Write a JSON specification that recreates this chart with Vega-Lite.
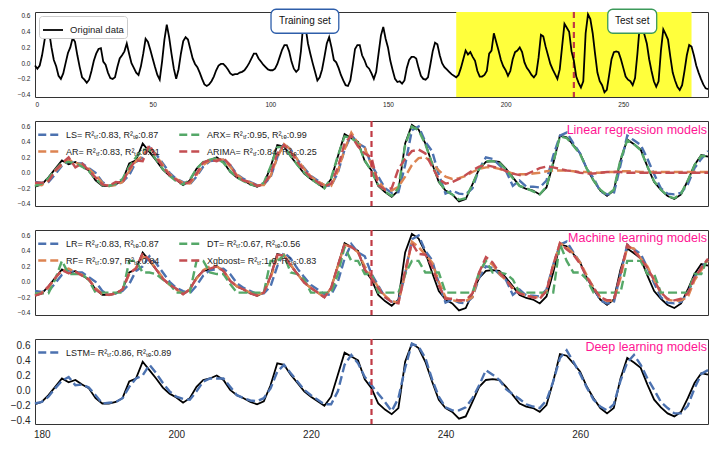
{
"$schema": "https://vega.github.io/schema/vega-lite/v6.json",
"padding": {"left": 9, "top": 8, "right": 5, "bottom": 5},
"spacing": 24,
"bounds": "flush",
"config": {"font": "Liberation Sans", "view": {"stroke": "#333", "strokeWidth": 1}, "axis": {"grid": false, "ticks": false, "domain": false, "labelColor": "#262626", "title": null, "labelOverlap": false}},
"resolve": {"scale": {"color": "independent", "x": "independent", "y": "independent"}, "legend": {"color": "independent"}},
"datasets": {
"orig": [
{"t":0,"v":-0.03},{"t":1,"v":-0.07},{"t":2,"v":-0.03},{"t":3,"v":0.1},{"t":4,"v":0.28},{"t":5,"v":0.45},{"t":6,"v":0.4},{"t":7,"v":0.2},{"t":8,"v":0.04},{"t":9,"v":-0.04},
{"t":10,"v":-0.16},{"t":11,"v":-0.2},{"t":12,"v":-0.13},{"t":13,"v":0.0},{"t":14,"v":0.13},{"t":15,"v":0.2},{"t":16,"v":0.32},{"t":17,"v":0.27},{"t":18,"v":0.1},{"t":19,"v":-0.05},
{"t":20,"v":-0.18},{"t":21,"v":-0.21},{"t":22,"v":-0.25},{"t":23,"v":-0.21},{"t":24,"v":-0.1},{"t":25,"v":0.03},{"t":26,"v":0.12},{"t":27,"v":0.18},{"t":28,"v":0.19},{"t":29,"v":0.02},
{"t":30,"v":-0.02},{"t":31,"v":-0.12},{"t":32,"v":-0.19},{"t":33,"v":-0.2},{"t":34,"v":-0.18},{"t":35,"v":-0.05},{"t":36,"v":0.06},{"t":37,"v":0.1},{"t":38,"v":0.15},{"t":39,"v":0.25},
{"t":40,"v":0.12},{"t":41,"v":0.0},{"t":42,"v":-0.06},{"t":43,"v":-0.12},{"t":44,"v":-0.15},{"t":45,"v":-0.04},{"t":46,"v":0.12},{"t":47,"v":0.31},{"t":48,"v":0.27},{"t":49,"v":0.17},
{"t":50,"v":0.06},{"t":51,"v":-0.05},{"t":52,"v":-0.15},{"t":53,"v":-0.21},{"t":54,"v":0.02},{"t":55,"v":0.3},{"t":56,"v":0.49},{"t":57,"v":0.33},{"t":58,"v":0.12},{"t":59,"v":-0.07},
{"t":60,"v":-0.2},{"t":61,"v":-0.08},{"t":62,"v":0.12},{"t":63,"v":0.28},{"t":64,"v":0.33},{"t":65,"v":0.3},{"t":66,"v":0.18},{"t":67,"v":0.06},{"t":68,"v":-0.01},{"t":69,"v":-0.05},
{"t":70,"v":-0.12},{"t":71,"v":-0.2},{"t":72,"v":-0.27},{"t":73,"v":-0.29},{"t":74,"v":-0.27},{"t":75,"v":-0.23},{"t":76,"v":-0.17},{"t":77,"v":-0.09},{"t":78,"v":-0.03},{"t":79,"v":-0.01},
{"t":80,"v":-0.01},{"t":81,"v":-0.04},{"t":82,"v":-0.08},{"t":83,"v":-0.13},{"t":84,"v":-0.15},{"t":85,"v":-0.14},{"t":86,"v":-0.14},{"t":87,"v":-0.12},{"t":88,"v":-0.11},{"t":89,"v":-0.09},
{"t":90,"v":-0.05},{"t":91,"v":0.0},{"t":92,"v":0.06},{"t":93,"v":0.12},{"t":94,"v":0.12},{"t":95,"v":0.06},{"t":96,"v":0.02},{"t":97,"v":-0.02},{"t":98,"v":-0.05},{"t":99,"v":-0.08},
{"t":100,"v":-0.09},{"t":101,"v":-0.09},{"t":102,"v":-0.07},{"t":103,"v":-0.01},{"t":104,"v":0.08},{"t":105,"v":0.17},{"t":106,"v":0.23},{"t":107,"v":0.23},{"t":108,"v":0.15},{"t":109,"v":0.02},
{"t":110,"v":-0.07},{"t":111,"v":-0.11},{"t":112,"v":-0.08},{"t":113,"v":0.15},{"t":114,"v":0.5},{"t":115,"v":0.45},{"t":116,"v":0.25},{"t":117,"v":0.12},{"t":118,"v":0.0},{"t":119,"v":-0.11},
{"t":120,"v":-0.22},{"t":121,"v":-0.18},{"t":122,"v":-0.08},{"t":123,"v":0.08},{"t":124,"v":0.25},{"t":125,"v":0.33},{"t":126,"v":0.2},{"t":127,"v":0.04},{"t":128,"v":0.01},{"t":129,"v":-0.06},
{"t":130,"v":-0.15},{"t":131,"v":-0.22},{"t":132,"v":-0.28},{"t":133,"v":-0.29},{"t":134,"v":-0.22},{"t":135,"v":-0.03},{"t":136,"v":0.18},{"t":137,"v":0.23},{"t":138,"v":0.23},{"t":139,"v":0.1},
{"t":140,"v":0.04},{"t":141,"v":-0.04},{"t":142,"v":-0.07},{"t":143,"v":-0.13},{"t":144,"v":-0.2},{"t":145,"v":-0.11},{"t":146,"v":0.12},{"t":147,"v":0.35},{"t":148,"v":0.46},{"t":149,"v":0.31},
{"t":150,"v":0.2},{"t":151,"v":0.03},{"t":152,"v":-0.09},{"t":153,"v":-0.2},{"t":154,"v":-0.24},{"t":155,"v":-0.23},{"t":156,"v":-0.26},{"t":157,"v":-0.22},{"t":158,"v":-0.06},{"t":159,"v":0.04},
{"t":160,"v":0.08},{"t":161,"v":0.08},{"t":162,"v":0.06},{"t":163,"v":-0.06},{"t":164,"v":-0.16},{"t":165,"v":-0.2},{"t":166,"v":-0.21},{"t":167,"v":-0.18},{"t":168,"v":-0.02},{"t":169,"v":0.15},
{"t":170,"v":0.26},{"t":171,"v":0.24},{"t":172,"v":0.1},{"t":173,"v":0.0},{"t":174,"v":-0.05},{"t":175,"v":-0.08},{"t":176,"v":-0.11},{"t":177,"v":-0.14},{"t":178,"v":-0.16},{"t":179,"v":-0.18},
{"t":180,"v":-0.15},{"t":181,"v":-0.06},{"t":182,"v":0.05},{"t":183,"v":0.16},{"t":184,"v":0.11},{"t":185,"v":0.14},{"t":186,"v":0.08},{"t":187,"v":0.03},{"t":188,"v":-0.1},{"t":189,"v":-0.17},
{"t":190,"v":-0.17},{"t":191,"v":-0.15},{"t":192,"v":-0.1},{"t":193,"v":0.12},{"t":194,"v":0.16},{"t":195,"v":0.38},{"t":196,"v":0.27},{"t":197,"v":0.16},{"t":198,"v":0.04},{"t":199,"v":-0.04},
{"t":200,"v":-0.09},{"t":201,"v":-0.16},{"t":202,"v":-0.1},{"t":203,"v":0.05},{"t":204,"v":0.14},{"t":205,"v":0.16},{"t":206,"v":0.2},{"t":207,"v":0.14},{"t":208,"v":0.01},{"t":209,"v":-0.06},
{"t":210,"v":-0.1},{"t":211,"v":-0.15},{"t":212,"v":-0.18},{"t":213,"v":-0.14},{"t":214,"v":0.07},{"t":215,"v":0.36},{"t":216,"v":0.34},{"t":217,"v":0.21},{"t":218,"v":0.1},{"t":219,"v":-0.01},
{"t":220,"v":-0.08},{"t":221,"v":-0.14},{"t":222,"v":-0.2},{"t":223,"v":-0.08},{"t":224,"v":0.21},{"t":225,"v":0.5},{"t":226,"v":0.45},{"t":227,"v":0.4},{"t":228,"v":0.15},{"t":229,"v":0.03},
{"t":230,"v":-0.17},{"t":231,"v":-0.25},{"t":232,"v":-0.31},{"t":233,"v":-0.23},{"t":234,"v":0.38},{"t":235,"v":0.62},{"t":236,"v":0.56},{"t":237,"v":0.38},{"t":238,"v":0.12},{"t":239,"v":-0.12},
{"t":240,"v":-0.23},{"t":241,"v":-0.28},{"t":242,"v":-0.37},{"t":243,"v":-0.34},{"t":244,"v":-0.15},{"t":245,"v":0.05},{"t":246,"v":0.14},{"t":247,"v":0.15},{"t":248,"v":0.14},{"t":249,"v":0.05},
{"t":250,"v":-0.06},{"t":251,"v":-0.17},{"t":252,"v":-0.21},{"t":253,"v":-0.23},{"t":254,"v":-0.28},{"t":255,"v":-0.19},{"t":256,"v":0.12},{"t":257,"v":0.48},{"t":258,"v":0.46},{"t":259,"v":0.36},
{"t":260,"v":0.25},{"t":261,"v":0.05},{"t":262,"v":-0.1},{"t":263,"v":-0.23},{"t":264,"v":-0.3},{"t":265,"v":-0.23},{"t":266,"v":0.16},{"t":267,"v":0.43},{"t":268,"v":0.37},{"t":269,"v":0.3},
{"t":270,"v":0.08},{"t":271,"v":-0.12},{"t":272,"v":-0.22},{"t":273,"v":-0.3},{"t":274,"v":-0.34},{"t":275,"v":-0.28},{"t":276,"v":-0.1},{"t":277,"v":0.1},{"t":278,"v":0.23},{"t":279,"v":0.21},
{"t":280,"v":0.1},{"t":281,"v":-0.03},{"t":282,"v":-0.12},{"t":283,"v":-0.2},{"t":284,"v":-0.27},{"t":285,"v":-0.32},{"t":286,"v":-0.33}
],
"pred": [
{"t":179,"ls":-0.12,"ar":-0.15,"arx":-0.17,"arima":-0.13,"rf":-0.16,"dt":-0.15,"xgb":-0.18,"lstm":-0.17},
{"t":180,"ls":-0.13,"ar":-0.16,"arx":-0.14,"arima":-0.13,"rf":-0.14,"dt":-0.15,"xgb":-0.15,"lstm":-0.15},
{"t":181,"ls":-0.12,"ar":-0.1,"arx":-0.07,"arima":-0.11,"rf":-0.08,"dt":-0.15,"xgb":-0.06,"lstm":-0.08},
{"t":182,"ls":-0.02,"ar":0.02,"arx":0.04,"arima":0.03,"rf":0.05,"dt":0.03,"xgb":0.05,"lstm":0.03},
{"t":183,"ls":0.09,"ar":0.1,"arx":0.13,"arima":0.12,"rf":0.14,"dt":0.27,"xgb":0.15,"lstm":0.13},
{"t":184,"ls":0.15,"ar":0.17,"arx":0.14,"arima":0.2,"rf":0.17,"dt":0.1,"xgb":0.11,"lstm":0.18},
{"t":185,"ls":0.12,"ar":0.13,"arx":0.12,"arima":0.07,"rf":0.12,"dt":0.1,"xgb":0.13,"lstm":0.07},
{"t":186,"ls":0.12,"ar":0.1,"arx":0.08,"arima":0.12,"rf":0.09,"dt":0.1,"xgb":0.08,"lstm":0.08},
{"t":187,"ls":0.06,"ar":0.05,"arx":0.02,"arima":0.03,"rf":0.03,"dt":0.02,"xgb":0.03,"lstm":0.04},
{"t":188,"ls":0.0,"ar":-0.03,"arx":-0.08,"arima":-0.06,"rf":-0.08,"dt":-0.14,"xgb":-0.1,"lstm":-0.06},
{"t":189,"ls":-0.12,"ar":-0.13,"arx":-0.16,"arima":-0.15,"rf":-0.16,"dt":-0.14,"xgb":-0.16,"lstm":-0.17},
{"t":190,"ls":-0.17,"ar":-0.17,"arx":-0.17,"arima":-0.17,"rf":-0.17,"dt":-0.14,"xgb":-0.17,"lstm":-0.16},
{"t":191,"ls":-0.15,"ar":-0.16,"arx":-0.14,"arima":-0.12,"rf":-0.15,"dt":-0.14,"xgb":-0.15,"lstm":-0.15},
{"t":192,"ls":-0.12,"ar":-0.12,"arx":-0.08,"arima":-0.13,"rf":-0.1,"dt":-0.14,"xgb":-0.1,"lstm":-0.1},
{"t":193,"ls":-0.03,"ar":0.02,"arx":0.08,"arima":0.05,"rf":0.1,"dt":0.27,"xgb":0.11,"lstm":0.05},
{"t":194,"ls":0.14,"ar":0.15,"arx":0.2,"arima":0.16,"rf":0.18,"dt":0.27,"xgb":0.17,"lstm":0.16},
{"t":195,"ls":0.2,"ar":0.22,"arx":0.3,"arima":0.15,"rf":0.33,"dt":0.12,"xgb":0.37,"lstm":0.2},
{"t":196,"ls":0.33,"ar":0.35,"arx":0.3,"arima":0.36,"rf":0.28,"dt":0.12,"xgb":0.28,"lstm":0.34},
{"t":197,"ls":0.24,"ar":0.22,"arx":0.17,"arima":0.2,"rf":0.17,"dt":0.1,"xgb":0.16,"lstm":0.23},
{"t":198,"ls":0.12,"ar":0.1,"arx":0.05,"arima":0.08,"rf":0.05,"dt":0.03,"xgb":0.04,"lstm":0.1},
{"t":199,"ls":0.0,"ar":-0.02,"arx":-0.04,"arima":-0.03,"rf":-0.04,"dt":-0.03,"xgb":-0.04,"lstm":-0.01},
{"t":200,"ls":-0.08,"ar":-0.08,"arx":-0.11,"arima":-0.09,"rf":-0.1,"dt":-0.14,"xgb":-0.09,"lstm":-0.08},
{"t":201,"ls":-0.12,"ar":-0.13,"arx":-0.15,"arima":-0.15,"rf":-0.16,"dt":-0.14,"xgb":-0.16,"lstm":-0.11},
{"t":202,"ls":-0.15,"ar":-0.14,"arx":-0.09,"arima":-0.12,"rf":-0.1,"dt":-0.14,"xgb":-0.1,"lstm":-0.12},
{"t":203,"ls":-0.05,"ar":-0.03,"arx":0.05,"arima":-0.01,"rf":0.04,"dt":0.27,"xgb":0.05,"lstm":-0.01},
{"t":204,"ls":0.08,"ar":0.1,"arx":0.14,"arima":0.13,"rf":0.15,"dt":0.27,"xgb":0.14,"lstm":0.12},
{"t":205,"ls":0.15,"ar":0.16,"arx":0.17,"arima":0.17,"rf":0.2,"dt":0.12,"xgb":0.17,"lstm":0.16},
{"t":206,"ls":0.16,"ar":0.17,"arx":0.19,"arima":0.15,"rf":0.2,"dt":0.1,"xgb":0.2,"lstm":0.16},
{"t":207,"ls":0.17,"ar":0.17,"arx":0.13,"arima":0.19,"rf":0.14,"dt":0.1,"xgb":0.14,"lstm":0.16},
{"t":208,"ls":0.1,"ar":0.08,"arx":0.02,"arima":0.1,"rf":0.02,"dt":-0.03,"xgb":0.01,"lstm":0.05},
{"t":209,"ls":-0.02,"ar":-0.03,"arx":-0.06,"arima":-0.05,"rf":-0.06,"dt":-0.14,"xgb":-0.06,"lstm":-0.06},
{"t":210,"ls":-0.08,"ar":-0.09,"arx":-0.11,"arima":-0.1,"rf":-0.1,"dt":-0.14,"xgb":-0.1,"lstm":-0.1},
{"t":211,"ls":-0.12,"ar":-0.13,"arx":-0.15,"arima":-0.12,"rf":-0.14,"dt":-0.14,"xgb":-0.15,"lstm":-0.13},
{"t":212,"ls":-0.16,"ar":-0.16,"arx":-0.17,"arima":-0.17,"rf":-0.17,"dt":-0.14,"xgb":-0.18,"lstm":-0.14},
{"t":213,"ls":-0.15,"ar":-0.16,"arx":-0.13,"arima":-0.15,"rf":-0.14,"dt":-0.14,"xgb":-0.14,"lstm":-0.1},
{"t":214,"ls":-0.06,"ar":-0.04,"arx":0.08,"arima":-0.02,"rf":0.05,"dt":0.27,"xgb":0.07,"lstm":0.03},
{"t":215,"ls":0.2,"ar":0.2,"arx":0.33,"arima":0.25,"rf":0.32,"dt":0.27,"xgb":0.35,"lstm":0.25},
{"t":216,"ls":0.38,"ar":0.37,"arx":0.34,"arima":0.36,"rf":0.35,"dt":0.34,"xgb":0.34,"lstm":0.34},
{"t":217,"ls":0.3,"ar":0.3,"arx":0.22,"arima":0.27,"rf":0.22,"dt":0.12,"xgb":0.21,"lstm":0.23},
{"t":218,"ls":0.17,"ar":0.17,"arx":0.1,"arima":0.14,"rf":0.1,"dt":0.1,"xgb":0.1,"lstm":0.12},
{"t":219,"ls":0.06,"ar":0.05,"arx":0.0,"arima":0.03,"rf":-0.01,"dt":0.03,"xgb":-0.01,"lstm":0.01},
{"t":220,"ls":-0.04,"ar":-0.05,"arx":-0.08,"arima":-0.06,"rf":-0.08,"dt":-0.14,"xgb":-0.08,"lstm":-0.06},
{"t":221,"ls":-0.1,"ar":-0.11,"arx":-0.14,"arima":-0.12,"rf":-0.14,"dt":-0.14,"xgb":-0.14,"lstm":-0.12},
{"t":222,"ls":-0.16,"ar":-0.16,"arx":-0.2,"arima":-0.18,"rf":-0.2,"dt":-0.14,"xgb":-0.2,"lstm":-0.18},
{"t":223,"ls":-0.17,"ar":-0.17,"arx":-0.07,"arima":-0.14,"rf":-0.08,"dt":-0.14,"xgb":-0.08,"lstm":-0.18},
{"t":224,"ls":0.0,"ar":0.02,"arx":0.22,"arima":0.07,"rf":0.2,"dt":0.1,"xgb":0.21,"lstm":-0.01},
{"t":225,"ls":0.3,"ar":0.3,"arx":0.47,"arima":0.38,"rf":0.48,"dt":0.45,"xgb":0.49,"lstm":0.34},
{"t":226,"ls":0.49,"ar":0.52,"arx":0.45,"arima":0.48,"rf":0.45,"dt":0.27,"xgb":0.45,"lstm":0.47},
{"t":227,"ls":0.38,"ar":0.38,"arx":0.38,"arima":0.34,"rf":0.38,"dt":0.27,"xgb":0.39,"lstm":0.36},
{"t":228,"ls":0.33,"ar":0.32,"arx":0.16,"arima":0.25,"rf":0.2,"dt":0.1,"xgb":0.16,"lstm":0.18},
{"t":229,"ls":0.1,"ar":0.1,"arx":0.02,"arima":0.2,"rf":0.07,"dt":0.1,"xgb":0.05,"lstm":0.07},
{"t":230,"ls":-0.05,"ar":-0.1,"arx":-0.16,"arima":-0.16,"rf":-0.07,"dt":-0.14,"xgb":-0.08,"lstm":-0.04},
{"t":231,"ls":-0.2,"ar":-0.22,"arx":-0.24,"arima":-0.22,"rf":-0.18,"dt":-0.14,"xgb":-0.2,"lstm":-0.15},
{"t":232,"ls":-0.26,"ar":-0.23,"arx":-0.3,"arima":-0.2,"rf":-0.25,"dt":-0.14,"xgb":-0.26,"lstm":-0.27},
{"t":233,"ls":-0.25,"ar":-0.18,"arx":-0.2,"arima":0.05,"rf":-0.27,"dt":-0.14,"xgb":-0.28,"lstm":-0.1},
{"t":234,"ls":0.1,"ar":-0.05,"arx":0.36,"arima":0.18,"rf":0.1,"dt":0.1,"xgb":0.15,"lstm":0.3},
{"t":235,"ls":0.55,"ar":0.1,"arx":0.6,"arima":0.28,"rf":0.52,"dt":0.27,"xgb":0.5,"lstm":0.62},
{"t":236,"ls":0.6,"ar":0.19,"arx":0.55,"arima":0.3,"rf":0.45,"dt":0.27,"xgb":0.36,"lstm":0.58},
{"t":237,"ls":0.4,"ar":0.2,"arx":0.37,"arima":0.25,"rf":0.35,"dt":0.12,"xgb":0.35,"lstm":0.43},
{"t":238,"ls":0.28,"ar":0.13,"arx":0.12,"arima":0.08,"rf":0.25,"dt":0.12,"xgb":0.2,"lstm":0.15},
{"t":239,"ls":-0.02,"ar":0.03,"arx":-0.11,"arima":-0.08,"rf":0.0,"dt":0.12,"xgb":-0.05,"lstm":-0.08},
{"t":240,"ls":-0.27,"ar":-0.05,"arx":-0.23,"arima":-0.14,"rf":-0.2,"dt":-0.14,"xgb":-0.22,"lstm":-0.22},
{"t":241,"ls":-0.23,"ar":-0.08,"arx":-0.28,"arima":-0.12,"rf":-0.24,"dt":-0.14,"xgb":-0.22,"lstm":-0.26},
{"t":242,"ls":-0.27,"ar":-0.07,"arx":-0.35,"arima":-0.08,"rf":-0.25,"dt":-0.14,"xgb":-0.24,"lstm":-0.26},
{"t":243,"ls":-0.28,"ar":-0.04,"arx":-0.33,"arima":-0.03,"rf":-0.25,"dt":-0.14,"xgb":-0.24,"lstm":-0.22},
{"t":244,"ls":-0.2,"ar":0.01,"arx":-0.15,"arima":0.03,"rf":-0.2,"dt":-0.14,"xgb":-0.15,"lstm":-0.1},
{"t":245,"ls":0.05,"ar":0.05,"arx":0.05,"arima":0.08,"rf":0.1,"dt":0.12,"xgb":0.12,"lstm":0.07},
{"t":246,"ls":0.2,"ar":0.07,"arx":0.15,"arima":0.1,"rf":0.28,"dt":0.27,"xgb":0.32,"lstm":0.27},
{"t":247,"ls":0.18,"ar":0.07,"arx":0.15,"arima":0.08,"rf":0.22,"dt":0.12,"xgb":0.25,"lstm":0.21},
{"t":248,"ls":0.1,"ar":0.05,"arx":0.13,"arima":0.06,"rf":0.1,"dt":0.12,"xgb":0.12,"lstm":0.14},
{"t":249,"ls":0.02,"ar":0.02,"arx":0.04,"arima":0.02,"rf":0.02,"dt":0.1,"xgb":0.03,"lstm":0.02},
{"t":250,"ls":-0.17,"ar":-0.01,"arx":-0.07,"arima":-0.01,"rf":-0.08,"dt":0.03,"xgb":-0.1,"lstm":-0.05},
{"t":251,"ls":-0.1,"ar":-0.02,"arx":-0.17,"arima":-0.03,"rf":-0.14,"dt":-0.14,"xgb":-0.15,"lstm":-0.11},
{"t":252,"ls":-0.18,"ar":-0.02,"arx":-0.2,"arima":-0.02,"rf":-0.18,"dt":-0.14,"xgb":-0.18,"lstm":-0.18},
{"t":253,"ls":-0.18,"ar":-0.01,"arx":-0.24,"arima":0.02,"rf":-0.2,"dt":-0.14,"xgb":-0.2,"lstm":-0.21},
{"t":254,"ls":-0.19,"ar":0.0,"arx":-0.28,"arima":0.06,"rf":-0.2,"dt":-0.14,"xgb":-0.22,"lstm":-0.23},
{"t":255,"ls":-0.1,"ar":0.02,"arx":-0.18,"arima":0.08,"rf":-0.12,"dt":-0.14,"xgb":-0.12,"lstm":-0.13},
{"t":256,"ls":0.22,"ar":0.03,"arx":0.13,"arima":0.07,"rf":0.2,"dt":-0.14,"xgb":0.22,"lstm":0.12},
{"t":257,"ls":0.48,"ar":0.03,"arx":0.47,"arima":0.05,"rf":0.5,"dt":0.49,"xgb":0.5,"lstm":0.43},
{"t":258,"ls":0.52,"ar":0.03,"arx":0.45,"arima":0.03,"rf":0.45,"dt":0.27,"xgb":0.42,"lstm":0.53},
{"t":259,"ls":0.38,"ar":0.02,"arx":0.35,"arima":0.02,"rf":0.37,"dt":0.12,"xgb":0.35,"lstm":0.38},
{"t":260,"ls":0.25,"ar":0.01,"arx":0.24,"arima":0.0,"rf":0.25,"dt":0.12,"xgb":0.23,"lstm":0.22},
{"t":261,"ls":0.05,"ar":0.01,"arx":0.05,"arima":-0.01,"rf":0.08,"dt":0.03,"xgb":0.06,"lstm":0.04},
{"t":262,"ls":-0.07,"ar":0.0,"arx":-0.1,"arima":-0.01,"rf":-0.08,"dt":-0.14,"xgb":-0.08,"lstm":-0.12},
{"t":263,"ls":-0.24,"ar":0.0,"arx":-0.22,"arima":0.0,"rf":-0.2,"dt":-0.14,"xgb":-0.2,"lstm":-0.21},
{"t":264,"ls":-0.28,"ar":0.01,"arx":-0.29,"arima":0.01,"rf":-0.25,"dt":-0.14,"xgb":-0.24,"lstm":-0.26},
{"t":265,"ls":-0.27,"ar":0.01,"arx":-0.22,"arima":0.01,"rf":-0.24,"dt":-0.14,"xgb":-0.24,"lstm":-0.18},
{"t":266,"ls":0.1,"ar":0.02,"arx":0.17,"arima":0.01,"rf":0.05,"dt":-0.14,"xgb":0.1,"lstm":0.13},
{"t":267,"ls":0.48,"ar":0.02,"arx":0.42,"arima":0.0,"rf":0.45,"dt":0.27,"xgb":0.48,"lstm":0.37},
{"t":268,"ls":0.42,"ar":0.02,"arx":0.37,"arima":0.0,"rf":0.43,"dt":0.27,"xgb":0.4,"lstm":0.47},
{"t":269,"ls":0.36,"ar":0.01,"arx":0.29,"arima":0.0,"rf":0.3,"dt":0.27,"xgb":0.3,"lstm":0.34},
{"t":270,"ls":0.18,"ar":0.01,"arx":0.08,"arima":0.0,"rf":0.2,"dt":0.1,"xgb":0.18,"lstm":0.16},
{"t":271,"ls":-0.02,"ar":0.01,"arx":-0.11,"arima":0.0,"rf":0.02,"dt":0.1,"xgb":0.02,"lstm":0.01},
{"t":272,"ls":-0.2,"ar":0.01,"arx":-0.22,"arima":0.0,"rf":-0.15,"dt":-0.14,"xgb":-0.14,"lstm":-0.15},
{"t":273,"ls":-0.27,"ar":0.01,"arx":-0.3,"arima":0.0,"rf":-0.23,"dt":-0.14,"xgb":-0.22,"lstm":-0.23},
{"t":274,"ls":-0.28,"ar":0.01,"arx":-0.33,"arima":0.0,"rf":-0.25,"dt":-0.14,"xgb":-0.24,"lstm":-0.3},
{"t":275,"ls":-0.26,"ar":0.01,"arx":-0.27,"arima":0.0,"rf":-0.24,"dt":-0.14,"xgb":-0.22,"lstm":-0.3},
{"t":276,"ls":-0.15,"ar":0.01,"arx":-0.1,"arima":0.0,"rf":-0.2,"dt":-0.14,"xgb":-0.15,"lstm":-0.2},
{"t":277,"ls":0.06,"ar":0.01,"arx":0.1,"arima":0.0,"rf":0.02,"dt":0.1,"xgb":0.05,"lstm":0.03},
{"t":278,"ls":0.18,"ar":0.01,"arx":0.22,"arima":0.0,"rf":0.15,"dt":0.1,"xgb":0.18,"lstm":0.22},
{"t":279,"ls":0.28,"ar":0.01,"arx":0.21,"arima":0.0,"rf":0.27,"dt":0.32,"xgb":0.3,"lstm":0.27}
]
},
"vconcat": [
{
"width": 673, "height": 85,
"layer": [
{"data": {"values": [{}]}, "mark": {"type": "rect", "color": "#FFFF3C"},
 "encoding": {"x": {"datum": 179, "type": "quantitative", "scale": {"domain": [0, 286], "nice": false, "zero": false}, "axis": {"values": [0, 50, 100, 150, 200, 250], "tickCount": 20, "labelFontSize": 6.5, "labelPadding": 4, "labelOverlap": false, "title": null}}, "x2": {"datum": 279}}},
{"data": {"values": [{}]}, "mark": {"type": "rule", "color": "#C03A45", "strokeWidth": 2.2, "strokeDash": [6, 4]},
 "encoding": {"x": {"datum": 229, "type": "quantitative"}}},
{"data": {"name": "orig"}, "mark": {"type": "line", "strokeWidth": 1.8},
 "encoding": {
  "x": {"field": "t", "type": "quantitative"},
  "y": {"field": "v", "type": "quantitative", "scale": {"domain": [-0.43, 0.65], "nice": false, "zero": false}, "axis": {"values": [-0.4, -0.2, 0, 0.2, 0.4, 0.6], "tickCount": 12, "format": ".1f", "labelFontSize": 6.5, "labelPadding": 5, "labelOverlap": false, "title": null}},
  "color": {"datum": "Original data", "type": "nominal", "scale": {"range": ["#000000"]}, "legend": {"orient": "top-left", "offset": 4, "title": null, "strokeColor": "#cccccc", "fillColor": "white", "padding": 3, "cornerRadius": 3, "labelFontSize": 9.5, "labelColor": "#222", "symbolType": "stroke", "symbolSize": 400, "symbolStrokeWidth": 1.8, "labelOffset": 6}}
 }},
{"data": {"values": [{}]}, "mark": {"type": "rect", "fill": "white", "stroke": "#2E5EAA", "strokeWidth": 1.3, "cornerRadius": 5},
 "encoding": {"x": {"datum": 100.3, "type": "quantitative"}, "x2": {"datum": 129.1}, "y": {"datum": 0.38, "type": "quantitative"}, "y2": {"datum": 0.685}}},
{"data": {"values": [{}]}, "mark": {"type": "text", "fontSize": 10, "color": "#111", "align": "center", "baseline": "middle"},
 "encoding": {"x": {"datum": 114.7, "type": "quantitative"}, "y": {"datum": 0.535, "type": "quantitative"}, "text": {"value": "Training set"}}},
{"data": {"values": [{}]}, "mark": {"type": "rect", "fill": "white", "stroke": "#3C9A5A", "strokeWidth": 1.3, "cornerRadius": 5},
 "encoding": {"x": {"datum": 243.4, "type": "quantitative"}, "x2": {"datum": 264.2}, "y": {"datum": 0.38, "type": "quantitative"}, "y2": {"datum": 0.685}}},
{"data": {"values": [{}]}, "mark": {"type": "text", "fontSize": 10, "color": "#111", "align": "center", "baseline": "middle"},
 "encoding": {"x": {"datum": 253.8, "type": "quantitative"}, "y": {"datum": 0.535, "type": "quantitative"}, "text": {"value": "Test set"}}}
]
},
{
"width": 673, "height": 85,
"layer": [
{"data": {"name": "orig"}, "transform": [{"filter": "datum.t >= 179 && datum.t <= 279"}], "mark": {"type": "line", "color": "#000000", "strokeWidth": 1.8},
 "encoding": {
  "x": {"field": "t", "type": "quantitative", "scale": {"domain": [179, 279], "nice": false, "zero": false}, "axis": null},
  "y": {"field": "v", "type": "quantitative", "scale": {"domain": [-0.43, 0.67], "nice": false, "zero": false}, "axis": {"values": [-0.4, -0.2, 0, 0.2, 0.4, 0.6], "tickCount": 12, "format": ".1f", "labelFontSize": 6.5, "labelPadding": 5, "labelOverlap": false, "title": null}}
 }},
{"data": {"name": "pred"}, "transform": [{"fold": ["ls", "ar", "arx", "arima"], "as": ["model", "p"]}], "mark": {"type": "line", "strokeWidth": 2.4, "strokeDash": [9, 4]},
 "encoding": {
  "x": {"field": "t", "type": "quantitative"},
  "y": {"field": "p", "type": "quantitative"},
  "color": {"field": "model", "type": "nominal", "scale": {"domain": ["ls", "ar", "arx", "arima"], "range": ["#4C72B0", "#DD8452", "#55A868", "#C44E52"]},
   "legend": {"orient": "top-left", "offset": 2, "title": null, "columns": 2, "columnPadding": 14, "rowPadding": 0, "labelFontSize": 9, "labelColor": "#222", "symbolType": "stroke", "symbolSize": 420, "symbolStrokeWidth": 2.4, "symbolDash": [8, 4], "labelOffset": 6, "padding": 0,
    "labelExpr": "{'ls': 'LS= R²ₜᵣ:0.83, R²ₜₑ:0.87', 'arx': 'ARX= R²ₜᵣ:0.95, R²ₜₑ:0.99', 'ar': 'AR= R²ₜᵣ:0.83, R²ₜₑ:0.21', 'arima': 'ARIMA= R²ₜᵣ:0.84, R²ₜₑ:0.25'}[datum.label]"}}
 }},
{"data": {"values": [{}]}, "mark": {"type": "rule", "color": "#C03A45", "strokeWidth": 2.2, "strokeDash": [6, 4]},
 "encoding": {"x": {"datum": 229, "type": "quantitative"}}},
{"data": {"values": [{}]}, "mark": {"type": "text", "fontSize": 12.5, "color": "#FF1493", "align": "right", "baseline": "middle", "dx": -1},
 "encoding": {"x": {"datum": 279, "type": "quantitative"}, "y": {"datum": 0.56, "type": "quantitative"}, "text": {"value": "Linear regression models"}}}
]
},
{
"width": 673, "height": 85,
"layer": [
{"data": {"name": "orig"}, "transform": [{"filter": "datum.t >= 179 && datum.t <= 279"}], "mark": {"type": "line", "color": "#000000", "strokeWidth": 1.8},
 "encoding": {
  "x": {"field": "t", "type": "quantitative", "scale": {"domain": [179, 279], "nice": false, "zero": false}, "axis": null},
  "y": {"field": "v", "type": "quantitative", "scale": {"domain": [-0.43, 0.67], "nice": false, "zero": false}, "axis": {"values": [-0.4, -0.2, 0, 0.2, 0.4, 0.6], "tickCount": 12, "format": ".1f", "labelFontSize": 6.5, "labelPadding": 5, "labelOverlap": false, "title": null}}
 }},
{"data": {"name": "pred"}, "transform": [{"fold": ["ls", "rf", "dt", "xgb"], "as": ["model", "p"]}], "mark": {"type": "line", "strokeWidth": 2.4, "strokeDash": [9, 4]},
 "encoding": {
  "x": {"field": "t", "type": "quantitative"},
  "y": {"field": "p", "type": "quantitative"},
  "color": {"field": "model", "type": "nominal", "scale": {"domain": ["ls", "rf", "dt", "xgb"], "range": ["#4C72B0", "#DD8452", "#55A868", "#C44E52"]},
   "legend": {"orient": "top-left", "offset": 2, "title": null, "columns": 2, "columnPadding": 14, "rowPadding": 0, "labelFontSize": 9, "labelColor": "#222", "symbolType": "stroke", "symbolSize": 420, "symbolStrokeWidth": 2.4, "symbolDash": [8, 4], "labelOffset": 6, "padding": 0,
    "labelExpr": "{'ls': 'LR= R²ₜᵣ:0.83, R²ₜₑ:0.87', 'dt': 'DT= R²ₜᵣ:0.67, R²ₜₑ:0.56', 'rf': 'RF= R²ₜᵣ:0.97, R²ₜₑ:0.84', 'xgb': 'Xgboost= R²ₜᵣ:1.0, R²ₜₑ:0.83'}[datum.label]"}}
 }},
{"data": {"values": [{}]}, "mark": {"type": "rule", "color": "#C03A45", "strokeWidth": 2.2, "strokeDash": [6, 4]},
 "encoding": {"x": {"datum": 229, "type": "quantitative"}}},
{"data": {"values": [{}]}, "mark": {"type": "text", "fontSize": 12.5, "color": "#FF1493", "align": "right", "baseline": "middle", "dx": -1},
 "encoding": {"x": {"datum": 279, "type": "quantitative"}, "y": {"datum": 0.57, "type": "quantitative"}, "text": {"value": "Machine learning models"}}}
]
},
{
"width": 673, "height": 85,
"layer": [
{"data": {"name": "orig"}, "transform": [{"filter": "datum.t >= 179 && datum.t <= 279"}], "mark": {"type": "line", "color": "#000000", "strokeWidth": 1.8},
 "encoding": {
  "x": {"field": "t", "type": "quantitative", "scale": {"domain": [179, 279], "nice": false, "zero": false}, "axis": {"values": [180, 200, 220, 240, 260], "tickCount": 20, "labelFontSize": 10, "labelPadding": 5, "labelOverlap": false, "title": null}},
  "y": {"field": "v", "type": "quantitative", "scale": {"domain": [-0.44, 0.68], "nice": false, "zero": false}, "axis": {"values": [-0.4, -0.2, 0, 0.2, 0.4, 0.6], "tickCount": 12, "format": ".1f", "labelFontSize": 10, "labelPadding": 5, "labelOverlap": false, "title": null}}
 }},
{"data": {"name": "pred"}, "transform": [{"fold": ["lstm"], "as": ["model", "p"]}], "mark": {"type": "line", "strokeWidth": 2.4, "strokeDash": [9, 4]},
 "encoding": {
  "x": {"field": "t", "type": "quantitative"},
  "y": {"field": "p", "type": "quantitative"},
  "color": {"field": "model", "type": "nominal", "scale": {"domain": ["lstm"], "range": ["#4C72B0"]},
   "legend": {"orient": "top-left", "offset": 2, "title": null, "labelFontSize": 9, "labelColor": "#222", "symbolType": "stroke", "symbolSize": 420, "symbolStrokeWidth": 2.4, "symbolDash": [8, 4], "labelOffset": 6, "padding": 0,
    "labelExpr": "{'lstm': 'LSTM= R²ₜᵣ:0.86, R²ₜₑ:0.89'}[datum.label]"}}
 }},
{"data": {"values": [{}]}, "mark": {"type": "rule", "color": "#C03A45", "strokeWidth": 2.2, "strokeDash": [6, 4]},
 "encoding": {"x": {"datum": 229, "type": "quantitative"}}},
{"data": {"values": [{}]}, "mark": {"type": "text", "fontSize": 12.5, "color": "#FF1493", "align": "right", "baseline": "middle", "dx": -1},
 "encoding": {"x": {"datum": 279, "type": "quantitative"}, "y": {"datum": 0.57, "type": "quantitative"}, "text": {"value": "Deep learning models"}}}
]
}
]
}
